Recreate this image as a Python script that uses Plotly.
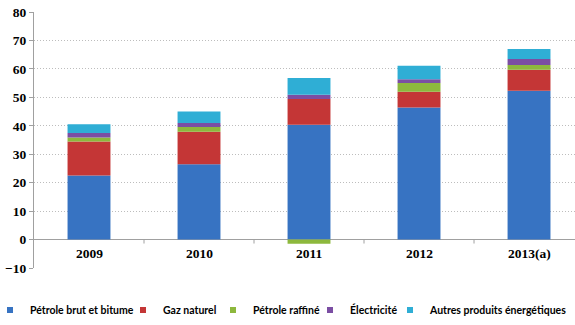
import plotly.graph_objects as go

years = ["2009", "2010", "2011", "2012", "2013(a)"]
petrole_brut = [22.5, 26.5, 40.4, 46.4, 52.3]
gaz_naturel = [12.0, 11.4, 9.0, 5.6, 7.4]
petrole_raffine = [1.4, 1.7, -1.5, 3.0, 1.7]
electricite = [1.6, 1.4, 1.5, 1.4, 2.1]
autres = [3.0, 4.0, 5.9, 4.7, 3.5]

series = [
    ("Pétrole brut et bitume", petrole_brut, "#3773C2"),
    ("Gaz naturel", gaz_naturel, "#C43636"),
    ("Pétrole raffiné", petrole_raffine, "#8DB83D"),
    ("Électricité", electricite, "#7B4EA3"),
    ("Autres produits énergétiques", autres, "#2FAED5"),
]
legend_text_x = [30, 163, 253, 350, 430]

W, H = 575, 325
ML, MR, MT, MB = 34, 0, 12, 57
PW, PH = W - ML - MR, H - MT - MB

fig = go.Figure()
legend_layouts = {}
for i, (name, vals, col) in enumerate(series):
    lg = "legend" if i == 0 else f"legend{i+1}"
    fig.add_trace(go.Bar(x=years, y=vals, name=name, marker_color=col,
                         marker_line_width=0, width=0.39, showlegend=False))
    fig.add_trace(go.Scatter(x=[years[0]], y=[None], mode="markers", name=name,
                             marker=dict(symbol="square", size=6, color=col),
                             legend=lg, showlegend=True, hoverinfo="skip"))
    legend_layouts[lg] = dict(
        x=(legend_text_x[i] - 25 - ML) / PW,
        y=-(310 - (H - MB)) / PH,
        xanchor="left", yanchor="middle", indentation=-15,
        bgcolor="rgba(0,0,0,0)", borderwidth=0,
        font=dict(family="Lato", size=10.5, color="#000000", weight="bold"),
    )

# category labels placed between the zero line and the -10 gridline
annotations = [
    dict(x=k, y=-5, xref="x", yref="y", text=yr, showarrow=False,
         font=dict(family="Liberation Serif", size=13.5, color="#000000", weight="bold"))
    for k, yr in enumerate(years)
]
# small tick marks at category boundaries on the zero line
shapes = [
    dict(type="line", xref="x", yref="y", x0=k + 0.5, x1=k + 0.5, y0=0, y1=-1.4,
         line=dict(color="#A0A0A0", width=1))
    for k in range(len(years))
]

fig.update_layout(
    barmode="relative",
    width=W, height=H,
    margin=dict(l=ML, r=MR, t=MT, b=MB, autoexpand=False),
    plot_bgcolor="white", paper_bgcolor="white",
    annotations=annotations, shapes=shapes,
    **legend_layouts,
)
fig.update_xaxes(
    range=[-0.5, 4.418], showgrid=False, showline=False, ticks="",
    showticklabels=False,
)
fig.update_yaxes(
    range=[-10, 80], dtick=10, showgrid=True, gridcolor="#BDBDBD", griddash="1px,2px",
    gridwidth=1, zeroline=True, zerolinecolor="#A0A0A0", zerolinewidth=1,
    showline=True, linecolor="#A0A0A0", linewidth=1, ticks="outside", ticklen=4,
    tickcolor="#A0A0A0",
    tickfont=dict(family="Liberation Serif", size=13.5, color="#000000", weight="bold"),
)
fig.write_html("out.html", config={"displayModeBar": False},
               post_script="document.body.style.margin='0';")
